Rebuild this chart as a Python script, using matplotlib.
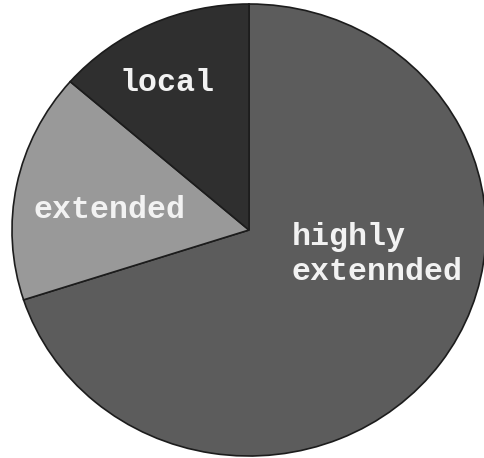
import matplotlib
matplotlib.use("Agg")
import matplotlib.pyplot as plt

# Share of each category
categories = ["highly\nextennded", "extended", "local"]
shares = [70.0, 16.4, 13.6]
colors = ["#5c5c5c", "#999999", "#2f2f2f"]

fig = plt.figure(figsize=(4.85, 4.58), dpi=100)
ax = fig.add_axes([0, 0, 1, 1])

wedges, _ = ax.pie(
    shares,
    colors=colors,
    startangle=90,
    counterclock=False,
    radius=1.0,
    wedgeprops=dict(edgecolor="#1c1c1c", linewidth=1.2),
)
ax.set_aspect("auto")
ax.set_xlim(-1.0506, 0.9958)
ax.set_ylim(-1.0088, 1.0177)
ax.axis("off")

font = dict(family="Liberation Mono", weight="bold", size=22.8, color="#f2f2f2")
ax.text(-0.344, 0.650, categories[2], ha="center", va="center", **font)
ax.text(-0.587, 0.088, categories[1], ha="center", va="center", **font)
ax.text(0.181, -0.108, categories[0], ha="left", va="center",
        linespacing=1.2, **font)

fig.savefig("out.png", dpi=100)
